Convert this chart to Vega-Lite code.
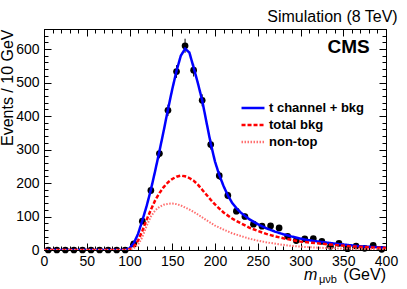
{
  "$schema": "https://vega.github.io/schema/vega-lite/v6.json",
  "autosize": {"type": "none"},
  "padding": {"left": 44, "top": 29, "right": 21, "bottom": 39},
  "width": 342,
  "height": 221,
  "background": "white",
  "title": {"text": "Simulation (8 TeV)", "anchor": "end", "fontSize": 16, "fontWeight": "normal", "font": "Liberation Sans", "color": "black", "offset": 4},
  "config": {
    "view": {"stroke": "black", "strokeWidth": 1},
    "axis": {"grid": false, "labelFont": "Liberation Sans", "titleFont": "Liberation Sans", "labelColor": "black", "titleColor": "black", "tickColor": "black", "domainColor": "black", "labelFlush": false, "labelOverlap": false},
    "legend": {"labelFont": "Liberation Sans"}
  },
  "datasets": {
    "blue": [
      {"m": 0, "v": 0, "s": "t channel + bkg"}, {"m": 95, "v": 0, "s": "t channel + bkg"}, {"m": 100, "v": 5, "s": "t channel + bkg"}, {"m": 105, "v": 20, "s": "t channel + bkg"}, {"m": 110, "v": 48, "s": "t channel + bkg"}, {"m": 115, "v": 88, "s": "t channel + bkg"}, {"m": 120, "v": 131, "s": "t channel + bkg"}, {"m": 125, "v": 180, "s": "t channel + bkg"}, {"m": 130, "v": 236, "s": "t channel + bkg"}, {"m": 135, "v": 295, "s": "t channel + bkg"}, {"m": 140, "v": 356, "s": "t channel + bkg"}, {"m": 145, "v": 420, "s": "t channel + bkg"}, {"m": 150, "v": 480, "s": "t channel + bkg"}, {"m": 155, "v": 535, "s": "t channel + bkg"}, {"m": 160, "v": 580, "s": "t channel + bkg"}, {"m": 165, "v": 601, "s": "t channel + bkg"}, {"m": 170, "v": 590, "s": "t channel + bkg"}, {"m": 175, "v": 545, "s": "t channel + bkg"}, {"m": 180, "v": 498, "s": "t channel + bkg"}, {"m": 185, "v": 447, "s": "t channel + bkg"}, {"m": 190, "v": 382, "s": "t channel + bkg"}, {"m": 195, "v": 318, "s": "t channel + bkg"}, {"m": 200, "v": 264, "s": "t channel + bkg"}, {"m": 205, "v": 224, "s": "t channel + bkg"}, {"m": 210, "v": 191, "s": "t channel + bkg"}, {"m": 215, "v": 163, "s": "t channel + bkg"}, {"m": 220, "v": 141, "s": "t channel + bkg"}, {"m": 225, "v": 125, "s": "t channel + bkg"}, {"m": 230, "v": 112, "s": "t channel + bkg"}, {"m": 240, "v": 92, "s": "t channel + bkg"}, {"m": 250, "v": 77, "s": "t channel + bkg"}, {"m": 260, "v": 65, "s": "t channel + bkg"}, {"m": 270, "v": 55, "s": "t channel + bkg"}, {"m": 280, "v": 47, "s": "t channel + bkg"}, {"m": 290, "v": 40, "s": "t channel + bkg"}, {"m": 300, "v": 34, "s": "t channel + bkg"}, {"m": 310, "v": 29, "s": "t channel + bkg"}, {"m": 325, "v": 24, "s": "t channel + bkg"}, {"m": 340, "v": 19, "s": "t channel + bkg"}, {"m": 355, "v": 15, "s": "t channel + bkg"}, {"m": 370, "v": 11, "s": "t channel + bkg"}, {"m": 385, "v": 9, "s": "t channel + bkg"}, {"m": 400, "v": 7, "s": "t channel + bkg"}
    ],
    "red": [
      {"m": 0, "v": 0, "s": "total bkg"}, {"m": 95, "v": 0, "s": "total bkg"}, {"m": 100, "v": 2, "s": "total bkg"}, {"m": 105, "v": 10, "s": "total bkg"}, {"m": 110, "v": 28, "s": "total bkg"}, {"m": 115, "v": 57, "s": "total bkg"}, {"m": 120, "v": 90, "s": "total bkg"}, {"m": 125, "v": 120, "s": "total bkg"}, {"m": 130, "v": 148, "s": "total bkg"}, {"m": 135, "v": 170, "s": "total bkg"}, {"m": 140, "v": 188, "s": "total bkg"}, {"m": 145, "v": 202, "s": "total bkg"}, {"m": 150, "v": 212, "s": "total bkg"}, {"m": 155, "v": 219, "s": "total bkg"}, {"m": 160, "v": 222, "s": "total bkg"}, {"m": 165, "v": 220, "s": "total bkg"}, {"m": 170, "v": 215, "s": "total bkg"}, {"m": 175, "v": 207, "s": "total bkg"}, {"m": 180, "v": 195, "s": "total bkg"}, {"m": 185, "v": 180, "s": "total bkg"}, {"m": 190, "v": 165, "s": "total bkg"}, {"m": 195, "v": 150, "s": "total bkg"}, {"m": 200, "v": 136, "s": "total bkg"}, {"m": 210, "v": 112, "s": "total bkg"}, {"m": 220, "v": 94, "s": "total bkg"}, {"m": 230, "v": 80, "s": "total bkg"}, {"m": 240, "v": 67, "s": "total bkg"}, {"m": 250, "v": 57, "s": "total bkg"}, {"m": 260, "v": 48, "s": "total bkg"}, {"m": 270, "v": 41, "s": "total bkg"}, {"m": 280, "v": 35, "s": "total bkg"}, {"m": 290, "v": 30, "s": "total bkg"}, {"m": 300, "v": 25, "s": "total bkg"}, {"m": 320, "v": 20, "s": "total bkg"}, {"m": 340, "v": 15, "s": "total bkg"}, {"m": 360, "v": 11, "s": "total bkg"}, {"m": 380, "v": 8, "s": "total bkg"}, {"m": 400, "v": 6, "s": "total bkg"}
    ],
    "pink": [
      {"m": 0, "v": 0, "s": "non-top"}, {"m": 95, "v": 0, "s": "non-top"}, {"m": 100, "v": 1, "s": "non-top"}, {"m": 105, "v": 5, "s": "non-top"}, {"m": 110, "v": 16, "s": "non-top"}, {"m": 115, "v": 38, "s": "non-top"}, {"m": 120, "v": 72, "s": "non-top"}, {"m": 125, "v": 100, "s": "non-top"}, {"m": 130, "v": 118, "s": "non-top"}, {"m": 135, "v": 129, "s": "non-top"}, {"m": 140, "v": 135, "s": "non-top"}, {"m": 145, "v": 138, "s": "non-top"}, {"m": 150, "v": 139, "s": "non-top"}, {"m": 155, "v": 137, "s": "non-top"}, {"m": 160, "v": 133, "s": "non-top"}, {"m": 165, "v": 127, "s": "non-top"}, {"m": 170, "v": 121, "s": "non-top"}, {"m": 175, "v": 114, "s": "non-top"}, {"m": 180, "v": 106, "s": "non-top"}, {"m": 190, "v": 89, "s": "non-top"}, {"m": 200, "v": 73, "s": "non-top"}, {"m": 210, "v": 61, "s": "non-top"}, {"m": 220, "v": 50, "s": "non-top"}, {"m": 230, "v": 42, "s": "non-top"}, {"m": 240, "v": 34, "s": "non-top"}, {"m": 250, "v": 28, "s": "non-top"}, {"m": 260, "v": 23, "s": "non-top"}, {"m": 275, "v": 17, "s": "non-top"}, {"m": 290, "v": 12, "s": "non-top"}, {"m": 305, "v": 9, "s": "non-top"}, {"m": 320, "v": 7, "s": "non-top"}, {"m": 340, "v": 5, "s": "non-top"}, {"m": 360, "v": 4, "s": "non-top"}, {"m": 380, "v": 3, "s": "non-top"}, {"m": 400, "v": 2, "s": "non-top"}
    ],
    "pts": [
      {"m": 5, "v": 0, "lo": 0, "hi": 0}, {"m": 15, "v": 0, "lo": 0, "hi": 0}, {"m": 25, "v": 0, "lo": 0, "hi": 0}, {"m": 35, "v": 0, "lo": 0, "hi": 0}, {"m": 45, "v": 0, "lo": 0, "hi": 0}, {"m": 55, "v": 0, "lo": 0, "hi": 0}, {"m": 65, "v": 0, "lo": 0, "hi": 0}, {"m": 75, "v": 0, "lo": 0, "hi": 0}, {"m": 85, "v": 0, "lo": 0, "hi": 0}, {"m": 95, "v": 0, "lo": 0, "hi": 0},
      {"m": 105, "v": 18, "lo": 14, "hi": 22}, {"m": 115, "v": 86, "lo": 78, "hi": 94}, {"m": 125, "v": 178, "lo": 167, "hi": 189}, {"m": 135, "v": 288, "lo": 274, "hi": 302}, {"m": 145, "v": 417, "lo": 400, "hi": 434}, {"m": 155, "v": 533, "lo": 514, "hi": 552}, {"m": 165, "v": 610, "lo": 589, "hi": 631}, {"m": 175, "v": 537, "lo": 518, "hi": 556}, {"m": 185, "v": 447, "lo": 429, "hi": 465}, {"m": 195, "v": 315, "lo": 300, "hi": 330},
      {"m": 205, "v": 222, "lo": 209, "hi": 235}, {"m": 215, "v": 163, "lo": 152, "hi": 174}, {"m": 225, "v": 116, "lo": 107, "hi": 125}, {"m": 235, "v": 100, "lo": 91, "hi": 109}, {"m": 245, "v": 77, "lo": 70, "hi": 84}, {"m": 255, "v": 71, "lo": 64, "hi": 78}, {"m": 265, "v": 72, "lo": 65, "hi": 79}, {"m": 275, "v": 66, "lo": 59, "hi": 73}, {"m": 285, "v": 41, "lo": 36, "hi": 46}, {"m": 295, "v": 28, "lo": 23, "hi": 33},
      {"m": 305, "v": 33, "lo": 28, "hi": 38}, {"m": 315, "v": 34, "lo": 29, "hi": 39}, {"m": 325, "v": 26, "lo": 22, "hi": 30}, {"m": 335, "v": 11, "lo": 8, "hi": 14}, {"m": 345, "v": 20, "lo": 16, "hi": 24}, {"m": 355, "v": 4, "lo": 2, "hi": 6}, {"m": 365, "v": 12, "lo": 9, "hi": 15}, {"m": 375, "v": 5, "lo": 3, "hi": 7}, {"m": 385, "v": 14, "lo": 11, "hi": 17}, {"m": 395, "v": 2, "lo": 1, "hi": 3}
    ],
    "cms": [{"m": 381, "v": 589, "t": "CMS"}],
    "mlab": [{"m": 304, "v": -90, "t": "m"}],
    "sub": [{"m": 321.5, "v": -98, "t": "μνb"}],
    "gev": [{"m": 400, "v": -89, "t": "(GeV)"}]
  },
  "resolve": {"axis": {"x": "independent", "y": "independent"}},
  "layer": [
    {
      "data": {"name": "pts"},
      "mark": {"type": "point", "filled": true, "shape": "circle", "size": 45, "color": "black", "opacity": 1, "clip": false},
      "encoding": {
        "x": {"field": "m", "type": "quantitative", "scale": {"domain": [0, 400], "nice": false}, "axis": null},
        "y": {"field": "v", "type": "quantitative", "scale": {"domain": [0, 660], "nice": false}, "axis": null}
      }
    },
    {
      "data": {"name": "pts"},
      "mark": {"type": "rule", "color": "black", "strokeWidth": 1, "clip": false},
      "encoding": {
        "x": {"field": "m", "type": "quantitative", "axis": {"orient": "top", "values": [0,10,20,30,40,50,60,70,80,90,100,110,120,130,140,150,160,170,180,190,200,210,220,230,240,250,260,270,280,290,300,310,320,330,340,350,360,370,380,390,400], "labels": false, "domain": false, "tickSize": -4, "title": null}},
        "y": {"field": "lo", "type": "quantitative", "axis": {"orient": "right", "values": [0,20,40,60,80,100,120,140,160,180,200,220,240,260,280,300,320,340,360,380,400,420,440,460,480,500,520,540,560,580,600,620,640,660], "labels": false, "domain": false, "tickSize": -4, "title": null}},
        "y2": {"field": "hi"}
      }
    },
    {
      "data": {"name": "blue"},
      "mark": {"type": "line", "strokeWidth": 2.5, "clip": true},
      "encoding": {
        "x": {"field": "m", "type": "quantitative", "axis": {"orient": "bottom", "values": [0,50,100,150,200,250,300,350,400], "tickSize": -7, "labelPadding": 11, "labelFontSize": 14, "domain": false, "title": null}},
        "y": {"field": "v", "type": "quantitative", "axis": {"orient": "left", "values": [0,100,200,300,400,500,600], "tickSize": -7, "labelPadding": 12, "labelFontSize": 14, "domain": false, "title": "Events / 10 GeV", "titleFontSize": 16, "titleFontWeight": "normal", "titleAnchor": "end", "titlePadding": 0}},
        "color": {"field": "s", "type": "nominal", "scale": {"domain": ["t channel + bkg", "total bkg", "non-top"], "range": ["#0000ff", "#ff0000", "#ff7070"]},
          "legend": {"title": null, "orient": "none", "legendX": 199, "legendY": 69, "symbolType": "M-1.35,0H1.35", "symbolSize": 289, "symbolStrokeWidth": 2.5, "labelFontSize": 13, "labelFontWeight": "bold", "labelColor": "black", "rowPadding": 0, "labelOffset": 6}},
        "strokeDash": {"field": "s", "type": "nominal", "scale": {"domain": ["t channel + bkg", "total bkg", "non-top"], "range": [[1, 0], [4, 2], [1.5, 1.5]]}, "legend": {"title": null}}
      }
    },
    {
      "data": {"name": "red"},
      "mark": {"type": "line", "strokeWidth": 2.5, "clip": true},
      "encoding": {
        "x": {"field": "m", "type": "quantitative", "axis": {"orient": "bottom", "values": [0,10,20,30,40,50,60,70,80,90,100,110,120,130,140,150,160,170,180,190,200,210,220,230,240,250,260,270,280,290,300,310,320,330,340,350,360,370,380,390,400], "labels": false, "domain": false, "tickSize": -4, "title": null}},
        "y": {"field": "v", "type": "quantitative", "axis": {"orient": "left", "values": [0,20,40,60,80,100,120,140,160,180,200,220,240,260,280,300,320,340,360,380,400,420,440,460,480,500,520,540,560,580,600,620,640,660], "labels": false, "domain": false, "tickSize": -4, "title": null}},
        "color": {"field": "s", "type": "nominal"},
        "strokeDash": {"field": "s", "type": "nominal"}
      }
    },
    {
      "data": {"name": "pink"},
      "mark": {"type": "line", "strokeWidth": 2, "clip": true},
      "encoding": {
        "x": {"field": "m", "type": "quantitative", "axis": {"orient": "top", "values": [0,50,100,150,200,250,300,350,400], "labels": false, "domain": false, "tickSize": -7, "title": null}},
        "y": {"field": "v", "type": "quantitative", "axis": {"orient": "right", "values": [0,100,200,300,400,500,600], "labels": false, "domain": false, "tickSize": -7, "title": null}},
        "color": {"field": "s", "type": "nominal"},
        "strokeDash": {"field": "s", "type": "nominal"}
      }
    },
    {
      "data": {"name": "cms"},
      "mark": {"type": "text", "clip": false, "font": "Liberation Sans", "fontSize": 19, "fontWeight": "bold", "align": "right", "baseline": "alphabetic", "color": "black"},
      "encoding": {
        "x": {"field": "m", "type": "quantitative", "axis": null},
        "y": {"field": "v", "type": "quantitative", "axis": null},
        "text": {"field": "t"}
      }
    },
    {
      "data": {"name": "mlab"},
      "mark": {"type": "text", "clip": false, "font": "Liberation Sans", "fontSize": 16, "fontStyle": "italic", "align": "left", "baseline": "alphabetic", "color": "black"},
      "encoding": {
        "x": {"field": "m", "type": "quantitative", "axis": null},
        "y": {"field": "v", "type": "quantitative", "axis": null},
        "text": {"field": "t"}
      }
    },
    {
      "data": {"name": "sub"},
      "mark": {"type": "text", "clip": false, "font": "Liberation Sans", "fontSize": 11, "align": "left", "baseline": "alphabetic", "color": "black"},
      "encoding": {
        "x": {"field": "m", "type": "quantitative", "axis": null},
        "y": {"field": "v", "type": "quantitative", "axis": null},
        "text": {"field": "t"}
      }
    },
    {
      "data": {"name": "gev"},
      "mark": {"type": "text", "clip": false, "font": "Liberation Sans", "fontSize": 16, "align": "right", "baseline": "alphabetic", "color": "black"},
      "encoding": {
        "x": {"field": "m", "type": "quantitative", "axis": null},
        "y": {"field": "v", "type": "quantitative", "axis": null},
        "text": {"field": "t"}
      }
    }
  ]
}
